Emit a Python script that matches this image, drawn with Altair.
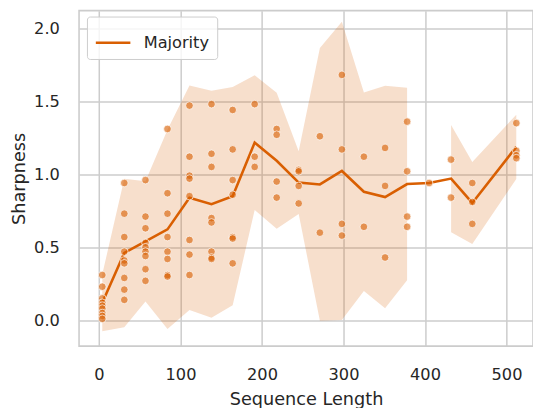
import altair as alt
import pandas as pd

seq_lengths = [4, 31, 57, 84, 111, 138, 164, 191, 218, 245, 271, 298, 325, 351, 378, 405, 432, 458, 512]
sharpness = [
    [0.31, 0.23, 0.15, 0.12, 0.10, 0.08, 0.05, 0.03, 0.01],
    [0.94, 0.73, 0.57, 0.47, 0.41, 0.39, 0.29, 0.21, 0.14],
    [0.96, 0.71, 0.63, 0.53, 0.50, 0.47, 0.44, 0.35, 0.27],
    [1.31, 0.87, 0.73, 0.57, 0.47, 0.42, 0.31, 0.30],
    [1.47, 1.12, 0.99, 0.97, 0.85, 0.55, 0.45, 0.31],
    [1.48, 1.14, 1.05, 0.70, 0.67, 0.47, 0.43, 0.42],
    [1.44, 1.17, 0.96, 0.86, 0.57, 0.56, 0.39],
    [1.48, 1.12, 1.05],
    [1.31, 1.27, 0.95, 0.84],
    [1.03, 1.02, 0.92, 0.80],
    [1.26, 0.60],
    [1.68, 1.17, 0.66, 0.58],
    [1.12, 0.64],
    [1.18, 0.92, 0.43],
    [1.36, 1.02, 0.71, 0.64],
    [0.94],
    [1.10, 0.84],
    [0.94, 0.81, 0.66],
    [1.35, 1.16, 1.13, 1.11],
]
x_ticks = [0, 100, 200, 300, 400, 500]
y_ticks = [0.0, 0.5, 1.0, 1.5, 2.0]

rows = [{"L": L, "s": v} for L, vals in zip(seq_lengths, sharpness) for v in vals]
df = pd.DataFrame(rows)

ORANGE = "#d95f02"
FONT = "DejaVu Sans"
xs = alt.Scale(domain=[-24.5, 532.5], nice=False, zero=False)
ys = alt.Scale(domain=[-0.177, 2.12], nice=False, zero=False)

xax = alt.Axis(title="Sequence Length", values=x_ticks, labelPadding=21, titlePadding=8,
               ticks=False, domain=False, grid=True)
yax = alt.Axis(title="Sharpness", values=y_ticks, format=".1f", labelPadding=20, titlePadding=5,
               ticks=False, domain=False, grid=True)

base = alt.Chart(df)

band = base.transform_aggregate(
    m="mean(s)", sd="stdev(s)", groupby=["L"]
).transform_filter(
    "isValid(datum.sd)"
).transform_calculate(
    lo="datum.m - 2*datum.sd", hi="datum.m + 2*datum.sd", seg="datum.L < 400 ? 'a' : 'b'"
).mark_area(color=ORANGE, opacity=0.2).encode(
    x=alt.X("L:Q", scale=xs, axis=xax),
    y=alt.Y("lo:Q", scale=ys, axis=yax),
    y2="hi:Q",
    detail="seg:N",
)

line = base.transform_aggregate(
    m="mean(s)", groupby=["L"]
).transform_calculate(
    series="'Majority'"
).mark_line(strokeWidth=2.6).encode(
    x=alt.X("L:Q", scale=xs),
    y=alt.Y("m:Q", scale=ys),
    color=alt.Color(
        "series:N",
        scale=alt.Scale(range=[ORANGE]),
        legend=alt.Legend(
            title=None, orient="none", legendX=8, legendY=6,
            symbolType="stroke", symbolSize=1225, symbolStrokeWidth=2.6,
            labelFontSize=16.4, labelOffset=12, padding=7.5,
            fillColor="rgba(255,255,255,0.8)", strokeColor="#cccccc", cornerRadius=3,
        ),
    ),
)

points = base.mark_circle(size=60, color=ORANGE, fillOpacity=0.62, stroke="white",
                          strokeWidth=0.7, strokeOpacity=1).encode(
    x=alt.X("L:Q", scale=xs),
    y=alt.Y("s:Q", scale=ys),
)

chart = alt.layer(band, line, points).properties(
    width=460, height=340,
    padding={"left": 72, "top": 0, "right": 0, "bottom": 60},
    autosize=alt.AutoSizeParams(type="none"),
).configure_view(
    stroke="#cccccc", strokeWidth=1.6
).configure_axis(
    gridColor="#cccccc", gridWidth=1.5,
    labelFont=FONT, titleFont=FONT, labelFontSize=16.4, titleFontSize=17.9,
    labelColor="#262626", titleColor="#262626", titleFontWeight="normal",
).configure_legend(
    labelFont=FONT, labelColor="#262626"
)

chart.save("out.html", embed_options={"renderer": "svg", "actions": False})
